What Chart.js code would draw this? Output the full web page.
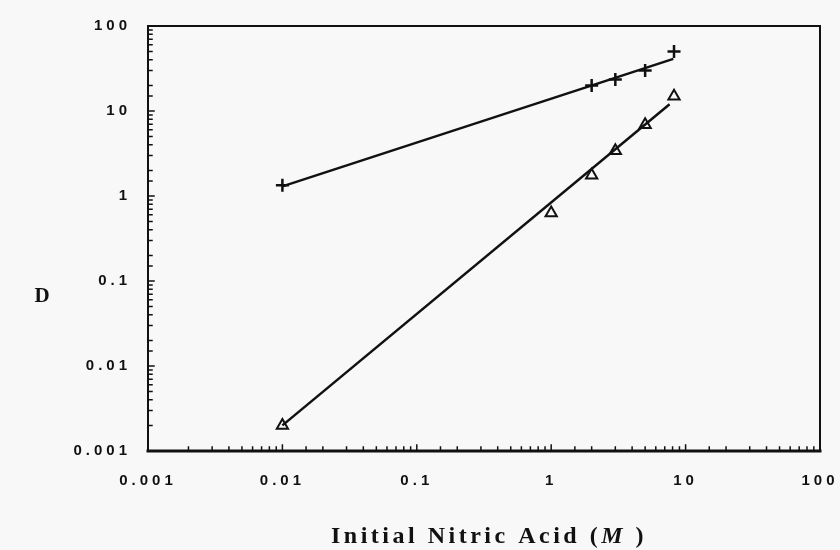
<!DOCTYPE html>
<html lang="en">
<head>
<meta charset="UTF-8">
<title>D vs initial nitric acid</title>
<script src="https://cdn.jsdelivr.net/npm/chart.js"></script>
<style>
  html, body { margin: 0; padding: 0; background: #f8f8f8; }
  #wrap { width: 840px; height: 550px; }
</style>
</head>
<body>
<div id="wrap"><canvas id="myChart"></canvas></div>
<script>
// data
const plusX = [0.01, 2, 3, 5, 8.2];
const plusY = [1.34, 20, 23.5, 30, 50];
const triX = [0.01, 1, 2, 3, 5, 8.2];
const triY = [0.002, 0.63, 1.75, 3.4, 6.9, 14.9];
// fitted lines (end points)
const plusFitX = [0.01, 8.1];
const plusFitY = [1.3, 41];
const triFitX = [0.01, 7.6];
const triFitY = [0.002, 12];

const axisMin = 0.001;
const axisMax = 100;

function pts(xs, ys) {
  return xs.map((x, i) => ({ x: x, y: ys[i] }));
}

function isMajor(v) {
  const l = Math.log10(v);
  return Math.abs(l - Math.round(l)) < 1e-9;
}

const ink = '#111';

// frame, inward tick marks, y title and x title
const decor = {
  id: 'decor',
  beforeUpdate(chart) { chart.ctx.letterSpacing = '4px'; },
  beforeDraw(chart) { chart.ctx.letterSpacing = '4px'; },
  afterDraw(chart) {
    const ctx = chart.ctx;
    const a = chart.chartArea;
    ctx.save();
    ctx.strokeStyle = ink;
    ctx.lineCap = 'square';
    // box
    ctx.lineWidth = 2;
    ctx.beginPath();
    ctx.moveTo(a.left, a.bottom);
    ctx.lineTo(a.left, a.top);
    ctx.lineTo(a.right, a.top);
    ctx.lineTo(a.right, a.bottom);
    ctx.stroke();
    ctx.lineWidth = 3;
    ctx.beginPath();
    ctx.moveTo(a.left, a.bottom);
    ctx.lineTo(a.right, a.bottom);
    ctx.stroke();

    // ticks pointing into the plot
    ctx.lineWidth = 1.5;
    const xs = chart.scales.x, ys = chart.scales.y;
    ctx.beginPath();
    xs.ticks.forEach(t => {
      const p = xs.getPixelForValue(t.value);
      const len = isMajor(t.value) ? 6 : 4;
      ctx.moveTo(p, a.bottom);
      ctx.lineTo(p, a.bottom - len);
    });
    ys.ticks.forEach(t => {
      const p = ys.getPixelForValue(t.value);
      const len = isMajor(t.value) ? 6 : 4;
      ctx.moveTo(a.left, p);
      ctx.lineTo(a.left + len, p);
    });
    ctx.stroke();

    // axis titles
    ctx.fillStyle = ink;
    ctx.textBaseline = 'middle';
    ctx.letterSpacing = '0px';
    ctx.font = 'bold 21px "Liberation Serif", "DejaVu Serif", serif';
    ctx.textAlign = 'center';
    ctx.fillText('D', 42, 297);

    ctx.letterSpacing = '3.5px';
    const normal = 'bold 24px "Liberation Serif", "DejaVu Serif", serif';
    const ital = 'bold italic 24px "Liberation Serif", "DejaVu Serif", serif';
    const parts = [['Initial Nitric Acid (', normal], ['M', ital], [' )', normal]];
    let total = 0;
    parts.forEach(p => { ctx.font = p[1]; total += ctx.measureText(p[0]).width; });
    let x = 489 - total / 2;
    ctx.textAlign = 'left';
    parts.forEach(p => {
      ctx.font = p[1];
      ctx.fillText(p[0], x, 537);
      x += ctx.measureText(p[0]).width;
    });
    ctx.restore();
  }
};

const tickFont = { family: '"Liberation Sans", Arial, sans-serif', size: 15, weight: 'bold' };

const config = {
  type: 'scatter',
  data: {
    datasets: [
      {
        label: 'fit +',
        data: pts(plusFitX, plusFitY),
        showLine: true,
        borderColor: ink,
        borderWidth: 2.5,
        pointRadius: 0
      },
      {
        label: 'fit triangle',
        data: pts(triFitX, triFitY),
        showLine: true,
        borderColor: ink,
        borderWidth: 2.5,
        pointRadius: 0
      },
      {
        label: '+',
        data: pts(plusX, plusY),
        pointStyle: 'cross',
        pointRadius: 6.5,
        pointBorderWidth: 2.5,
        borderColor: ink,
        backgroundColor: ink
      },
      {
        label: 'triangle',
        data: pts(triX, triY),
        pointStyle: 'triangle',
        pointRadius: 6.5,
        pointBorderWidth: 2,
        borderColor: ink,
        backgroundColor: '#f8f8f8'
      }
    ]
  },
  options: {
    responsive: true,
    maintainAspectRatio: false,
    animation: false,
    layout: { padding: { left: 0, right: 0, top: 21, bottom: 0 } },
    plugins: {
      legend: { display: false },
      tooltip: { enabled: false }
    },
    scales: {
      x: {
        type: 'logarithmic',
        min: axisMin,
        max: axisMax,
        grid: { display: false, drawTicks: false },
        border: { display: false },
        ticks: {
          autoSkip: false,
          maxRotation: 0,
          padding: 21,
          color: ink,
          font: tickFont,
          callback: v => isMajor(v) ? String(v) : ''
        },
        afterFit: s => { s.height = 99; s.paddingRight = 20; }
      },
      y: {
        type: 'logarithmic',
        min: axisMin,
        max: axisMax,
        grid: { display: false, drawTicks: false },
        border: { display: false },
        ticks: {
          autoSkip: false,
          padding: 17,
          color: ink,
          font: tickFont,
          callback: v => isMajor(v) ? String(v) : ''
        },
        afterFit: s => { s.width = 148; }
      }
    }
  },
  plugins: [decor]
};

const myChart = new Chart(document.getElementById('myChart'), config);
</script>
</body>
</html>
